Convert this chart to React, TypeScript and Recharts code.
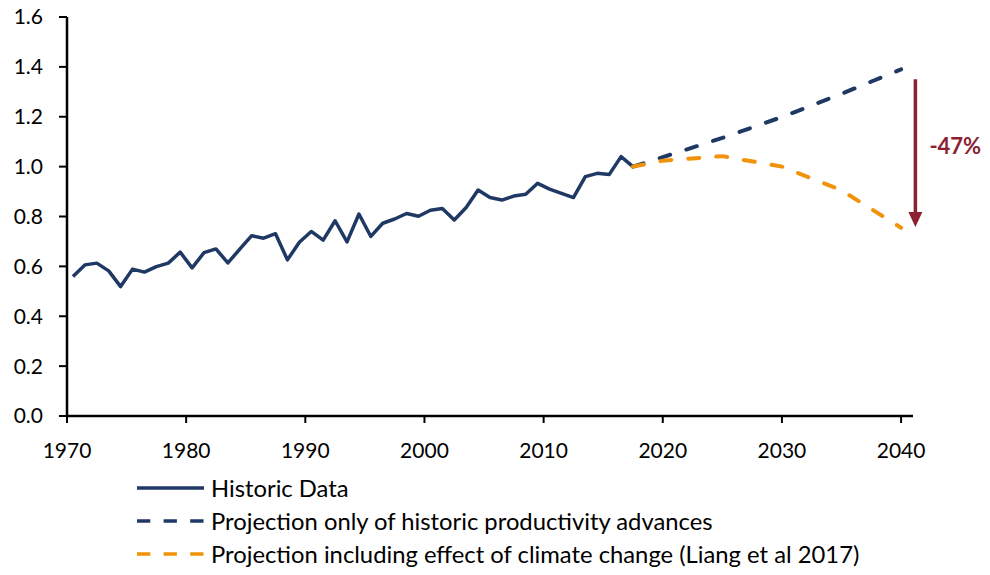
import React from 'react';
import { LineChart, Line, XAxis, YAxis, Legend, ReferenceLine, ReferenceDot } from 'recharts';

// ---- Data ----
const historicYears = [
  1970, 1971, 1972, 1973, 1974, 1975, 1976, 1977, 1978, 1979,
  1980, 1981, 1982, 1983, 1984, 1985, 1986, 1987, 1988, 1989,
  1990, 1991, 1992, 1993, 1994, 1995, 1996, 1997, 1998, 1999,
  2000, 2001, 2002, 2003, 2004, 2005, 2006, 2007, 2008, 2009,
  2010, 2011, 2012, 2013, 2014, 2015, 2016, 2017,
];
const historicValues = [
  0.559, 0.606, 0.613, 0.582, 0.519, 0.589, 0.577, 0.599, 0.613, 0.657,
  0.594, 0.655, 0.670, 0.614, 0.669, 0.723, 0.713, 0.731, 0.626, 0.697,
  0.740, 0.705, 0.783, 0.698, 0.810, 0.720, 0.773, 0.790, 0.812, 0.801,
  0.825, 0.832, 0.786, 0.836, 0.906, 0.876, 0.866, 0.882, 0.889, 0.933,
  0.910, 0.893, 0.876, 0.960, 0.973, 0.968, 1.040, 1.000,
];
// projections start at the last (mid-2017) historic observation
const projectionYears = [2017.5, 2020, 2025, 2030, 2035, 2040];
const productivityOnly = [1.0, 1.038, 1.115, 1.199, 1.292, 1.39];
const withClimate = [1.0, 1.024, 1.042, 1.0, 0.905, 0.755];

const xTicks = [1970, 1980, 1990, 2000, 2010, 2020, 2030, 2040];
const yTicks = [0, 0.2, 0.4, 0.6, 0.8, 1.0, 1.2, 1.4, 1.6];

const arrowYear = 2041.2;
const arrowTop = 1.35;
const arrowBottom = 0.758;
const changeLabel = '-47%';
const changeLabelY = 1.083;

const seriesNames = [
  'Historic Data',
  'Projection only of historic productivity advances',
  'Projection including effect of climate change (Liang et al 2017)',
];

// ---- Styles ----
const NAVY = '#1F3864';
const ORANGE = '#F0930A';
const DARKRED = '#8B2131';
const FONT = 'Lato, "Noto Sans", sans-serif';

// observations are plotted at mid-year
const historicData = historicYears.map((y, i) => ({ x: y + 0.5, v: historicValues[i] }));
const productivityData = projectionYears.map((y, i) => ({ x: y, v: productivityOnly[i] }));
const climateData = projectionYears.map((y, i) => ({ x: y, v: withClimate[i] }));

const legendItems = [
  { name: seriesNames[0], color: NAVY, dash: undefined as string | undefined },
  { name: seriesNames[1], color: NAVY, dash: '13.3 13.3' },
  { name: seriesNames[2], color: ORANGE, dash: '13.3 13.3' },
];

const LegendContent = () => (
  <div style={{ display: 'flex', flexDirection: 'column', gap: 7, fontFamily: FONT }}>
    {legendItems.map((it) => (
      <div key={it.name} style={{ display: 'flex', alignItems: 'center', height: 26 }}>
        <svg width={67} height={6} style={{ display: 'block' }}>
          <line x1={0} y1={3} x2={67} y2={3} stroke={it.color} strokeWidth={3.5} strokeDasharray={it.dash} />
        </svg>
        <span style={{ marginLeft: 7, fontSize: 23.8, color: '#000', lineHeight: '26px', whiteSpace: 'nowrap' }}>
          {it.name}
        </span>
      </div>
    ))}
  </div>
);

const ArrowShape = (props: any) => {
  const { x1, y1, x2, y2 } = props;
  const head = 15;
  const hw = 7;
  return (
    <g>
      <line x1={x1} y1={y1} x2={x2} y2={y2 - head + 1} stroke={DARKRED} strokeWidth={3.5} />
      <polygon points={`${x2 - hw},${y2 - head} ${x2 + hw},${y2 - head} ${x2},${y2}`} fill={DARKRED} />
    </g>
  );
};

export default function App() {
  return (
    <div style={{ fontFamily: FONT, width: 974, height: 559 }}>
      <style>{'.recharts-surface{overflow:visible}'}</style>
      <LineChart
        width={974}
        height={559}
        margin={{ top: 9, right: 69, bottom: 14, left: 0 }}
        style={{ fontFamily: FONT }}
      >
        <XAxis
          dataKey="x"
          type="number"
          domain={[1970, 2041]}
          ticks={xTicks}
          interval={0}
          tickSize={7}
          tickMargin={20}
          height={45}
          axisLine={{ stroke: '#000', strokeWidth: 2.5 }}
          tickLine={{ stroke: '#000', strokeWidth: 2 }}
          tick={{ fill: '#000', fontSize: 21 }}
        />
        <YAxis
          type="number"
          domain={[0, 1.6]}
          ticks={yTicks}
          interval={0}
          width={59}
          tickSize={8}
          tickMargin={16}
          tickFormatter={(v: number) => v.toFixed(1)}
          axisLine={{ stroke: '#000', strokeWidth: 2.5 }}
          tickLine={{ stroke: '#000', strokeWidth: 2 }}
          tick={{ fill: '#000', fontSize: 21 }}
        />
        <Line
          data={historicData}
          dataKey="v"
          name={seriesNames[0]}
          type="linear"
          stroke={NAVY}
          strokeWidth={3.5}
          strokeLinejoin="round"
          dot={false}
          activeDot={false}
          isAnimationActive={false}
        />
        <Line
          data={productivityData}
          dataKey="v"
          name={seriesNames[1]}
          type="linear"
          stroke={NAVY}
          strokeWidth={4}
          strokeDasharray="11 17"
          strokeLinecap="round"
          dot={false}
          activeDot={false}
          isAnimationActive={false}
        />
        <Line
          data={climateData}
          dataKey="v"
          name={seriesNames[2]}
          type="linear"
          stroke={ORANGE}
          strokeWidth={4}
          strokeDasharray="11 17"
          strokeLinecap="round"
          dot={false}
          activeDot={false}
          isAnimationActive={false}
        />
        <ReferenceLine
          segment={[
            { x: arrowYear, y: arrowTop },
            { x: arrowYear, y: arrowBottom },
          ]}
          ifOverflow="visible"
          shape={ArrowShape}
        />
        <ReferenceDot
          x={arrowYear}
          y={changeLabelY}
          r={0}
          fill="none"
          stroke="none"
          ifOverflow="visible"
          label={{ value: changeLabel, position: 'right', offset: 14, fill: DARKRED, fontSize: 22, fontWeight: 700 }}
        />
        <Legend
          verticalAlign="bottom"
          align="left"
          layout="horizontal"
          content={<LegendContent />}
          wrapperStyle={{ left: 129, top: 467, bottom: 'auto', width: 'auto' }}
        />
      </LineChart>
    </div>
  );
}
